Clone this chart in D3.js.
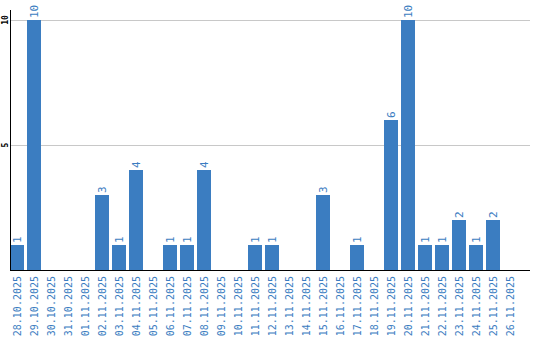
<!DOCTYPE html>
<html><head><meta charset="utf-8">
<script src="https://cdn.jsdelivr.net/npm/d3@7"></script>
<style>html,body{margin:0;padding:0;background:#fff;}svg{display:block;}</style>
</head><body>
<script>
const categories = ["28.10.2025","29.10.2025","30.10.2025","31.10.2025","01.11.2025","02.11.2025","03.11.2025","04.11.2025","05.11.2025","06.11.2025","07.11.2025","08.11.2025","09.11.2025","10.11.2025","11.11.2025","12.11.2025","13.11.2025","14.11.2025","15.11.2025","16.11.2025","17.11.2025","18.11.2025","19.11.2025","20.11.2025","21.11.2025","22.11.2025","23.11.2025","24.11.2025","25.11.2025","26.11.2025"];
const values = [1,10,0,0,0,3,1,4,0,1,1,4,0,0,1,1,0,0,3,0,1,0,6,10,1,1,2,1,2,0];
const yTicks = [5,10];

const W = 540, H = 340;
const blue = "#3b7dc1";
const svg = d3.select("body").append("svg").attr("width", W).attr("height", H);

const x = d3.scaleBand().domain(categories).range([10, 517]).paddingInner(3/17).paddingOuter(0);
const y = d3.scaleLinear().domain([0, 10]).range([270, 20]);

// gridlines
svg.append("g").selectAll("line").data(yTicks).join("line")
  .attr("x1", 10).attr("x2", 530)
  .attr("y1", d => y(d) + 0.5).attr("y2", d => y(d) + 0.5)
  .attr("stroke", "#c8c8c8").attr("stroke-width", 1);

// bars
svg.append("g").selectAll("rect").data(values.map((v, i) => ({c: categories[i], v})).filter(d => d.v > 0)).join("rect")
  .attr("x", d => x(d.c)).attr("width", x.bandwidth())
  .attr("y", d => y(d.v)).attr("height", d => y(0) - y(d.v))
  .attr("fill", blue);

// value labels
svg.append("g").selectAll("text").data(values.map((v, i) => ({c: categories[i], v})).filter(d => d.v > 0)).join("text")
  .attr("transform", d => `translate(${x(d.c) + x.bandwidth()/2 + 4},${y(d.v) - 2}) rotate(-90)`)
  .attr("text-anchor", "start")
  .attr("font-family", "DejaVu Sans Mono, monospace").attr("font-size", 11)
  .attr("fill", blue)
  .text(d => d.v);

// axes lines
svg.append("line").attr("x1", 10.5).attr("x2", 10.5).attr("y1", 10).attr("y2", 270).attr("stroke", "#000");
svg.append("line").attr("x1", 10).attr("x2", 530).attr("y1", 270.5).attr("y2", 270.5).attr("stroke", "#000");

// y tick labels
svg.append("g").selectAll("text").data(yTicks).join("text")
  .attr("transform", d => `translate(8,${y(d)}) rotate(-90)`)
  .attr("text-anchor", "middle")
  .attr("font-family", "DejaVu Sans Mono, monospace").attr("font-size", 8).attr("font-weight", "bold")
  .attr("fill", "#000")
  .text(d => d);

// x labels
const xAxis = d3.axisBottom(x).tickSize(0).tickPadding(0);
const gx = svg.append("g").attr("transform", "translate(0,270)").call(xAxis);
gx.select(".domain").remove();
gx.selectAll("text")
  .attr("transform", "rotate(-90)")
  .attr("text-anchor", "end")
  .attr("x", -6).attr("y", 0).attr("dy", "0.35em")
  .attr("font-family", "DejaVu Sans Mono, monospace").attr("font-size", 10)
  .attr("fill", blue);
</script>
</body></html>
